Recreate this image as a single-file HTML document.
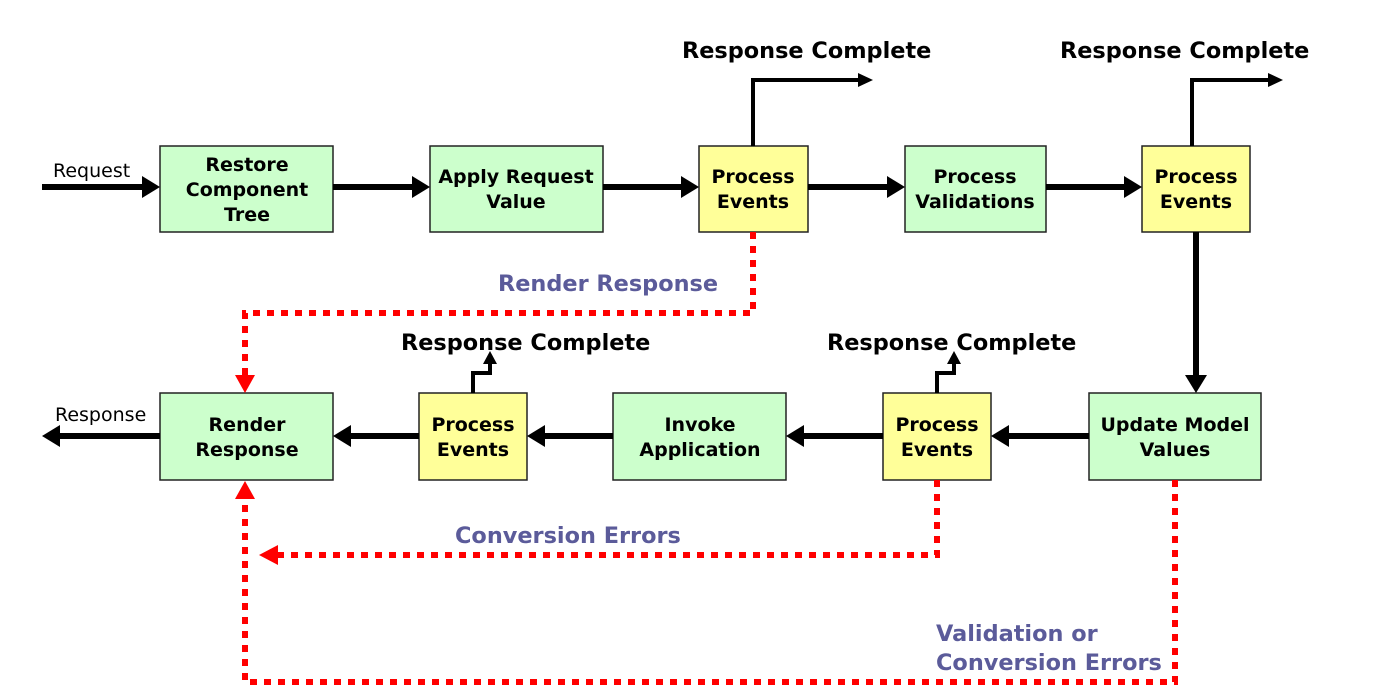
<!DOCTYPE html>
<html><head><meta charset="utf-8"><style>
html,body{margin:0;padding:0;background:#fff;}
svg{display:block;}
.b{font-family:"DejaVu Sans","Liberation Sans",sans-serif;font-weight:bold;font-size:19px;fill:#000;text-anchor:middle;}
.t{font-family:"DejaVu Sans","Liberation Sans",sans-serif;font-weight:bold;font-size:22.4px;fill:#000;}
.p{font-family:"DejaVu Sans","Liberation Sans",sans-serif;font-weight:bold;font-size:22.4px;fill:#5b5b9a;}
.r{font-family:"DejaVu Sans","Liberation Sans",sans-serif;font-size:19px;fill:#000;}
</style></head><body>
<svg width="1378" height="693" viewBox="0 0 1378 693" xmlns="http://www.w3.org/2000/svg">
<g stroke="#222" stroke-width="1.5">
<rect x="160" y="146" width="173" height="86" fill="#ccffcc"/>
<rect x="430" y="146" width="173" height="86" fill="#ccffcc"/>
<rect x="699" y="146" width="109" height="86" fill="#ffff99"/>
<rect x="905" y="146" width="141" height="86" fill="#ccffcc"/>
<rect x="1142" y="146" width="108" height="86" fill="#ffff99"/>
<rect x="160" y="393" width="173" height="87" fill="#ccffcc"/>
<rect x="419" y="393" width="108" height="87" fill="#ffff99"/>
<rect x="613" y="393" width="173" height="87" fill="#ccffcc"/>
<rect x="883" y="393" width="108" height="87" fill="#ffff99"/>
<rect x="1089" y="393" width="172" height="87" fill="#ccffcc"/>
</g>
<text class="b"><tspan x="247" y="171">Restore</tspan><tspan x="247" y="196">Component</tspan><tspan x="247" y="221">Tree</tspan></text>
<text class="b"><tspan x="516" y="183">Apply Request</tspan><tspan x="516" y="208">Value</tspan></text>
<text class="b"><tspan x="753" y="183">Process</tspan><tspan x="753" y="208">Events</tspan></text>
<text class="b"><tspan x="975" y="183">Process</tspan><tspan x="975" y="208">Validations</tspan></text>
<text class="b"><tspan x="1196" y="183">Process</tspan><tspan x="1196" y="208">Events</tspan></text>
<text class="b"><tspan x="247" y="431">Render</tspan><tspan x="247" y="456">Response</tspan></text>
<text class="b"><tspan x="473" y="431">Process</tspan><tspan x="473" y="456">Events</tspan></text>
<text class="b"><tspan x="700" y="431">Invoke</tspan><tspan x="700" y="456">Application</tspan></text>
<text class="b"><tspan x="937" y="431">Process</tspan><tspan x="937" y="456">Events</tspan></text>
<text class="b"><tspan x="1175" y="431">Update Model</tspan><tspan x="1175" y="456">Values</tspan></text>

<g stroke="#000" stroke-width="6" fill="none">
<line x1="42" y1="187" x2="142" y2="187"/>
<line x1="333" y1="187" x2="412" y2="187"/>
<line x1="603" y1="187" x2="681" y2="187"/>
<line x1="808" y1="187" x2="887" y2="187"/>
<line x1="1046" y1="187" x2="1124" y2="187"/>
<line x1="1196" y1="232" x2="1196" y2="375"/>
<line x1="1089" y1="436" x2="1009" y2="436"/>
<line x1="883" y1="436" x2="804" y2="436"/>
<line x1="613" y1="436" x2="545" y2="436"/>
<line x1="419" y1="436" x2="351" y2="436"/>
<line x1="160" y1="436" x2="60" y2="436"/>
</g>
<g stroke="#000" stroke-width="4" fill="none">
<polyline points="753,146 753,80 858,80"/>
<polyline points="1192,146 1192,80 1268,80"/>
<polyline points="473,393 473,373 490,373 490,362"/>
<polyline points="937,393 937,373 954,373 954,362"/>
</g>
<g fill="#000">
<polygon points="142,176 160,187 142,198"/>
<polygon points="412,176 430,187 412,198"/>
<polygon points="681,176 699,187 681,198"/>
<polygon points="887,176 905,187 887,198"/>
<polygon points="1124,176 1142,187 1124,198"/>
<polygon points="1185,375 1196,393 1207,375"/>
<polygon points="1009,425 991,436 1009,447"/>
<polygon points="804,425 786,436 804,447"/>
<polygon points="545,425 527,436 545,447"/>
<polygon points="351,425 333,436 351,447"/>
<polygon points="60,425 42,436 60,447"/>
<polygon points="858,73 873,80 858,87"/>
<polygon points="1268,73 1283,80 1268,87"/>
<polygon points="483,364 490,351 497,364"/>
<polygon points="947,364 954,351 961,364"/>
</g>
<g stroke="#ff0000" stroke-width="6" fill="none" stroke-dasharray="7 7">
<polyline points="753,232 753,313 245,313 245,377"/>
<polyline points="937,480 937,555 276,555"/>
<polyline points="1175,480 1175,682 245,682 245,497"/>
</g>
<g fill="#ff0000">
<polygon points="235,375 245,393 255,375"/>
<polygon points="278,545 259,555 278,565"/>
<polygon points="235,499 245,481 255,499"/>
</g>
<text class="r" x="53" y="177">Request</text>
<text class="r" x="55" y="421">Response</text>
<text class="t" x="682" y="58">Response Complete</text>
<text class="t" x="1060" y="58">Response Complete</text>
<text class="t" x="401" y="350">Response Complete</text>
<text class="t" x="827" y="350">Response Complete</text>
<text class="p" x="498" y="291">Render Response</text>
<text class="p" x="455" y="543">Conversion Errors</text>
<text class="p" x="936" y="641">Validation or</text>
<text class="p" x="936" y="670">Conversion Errors</text>
</svg>
</body></html>
